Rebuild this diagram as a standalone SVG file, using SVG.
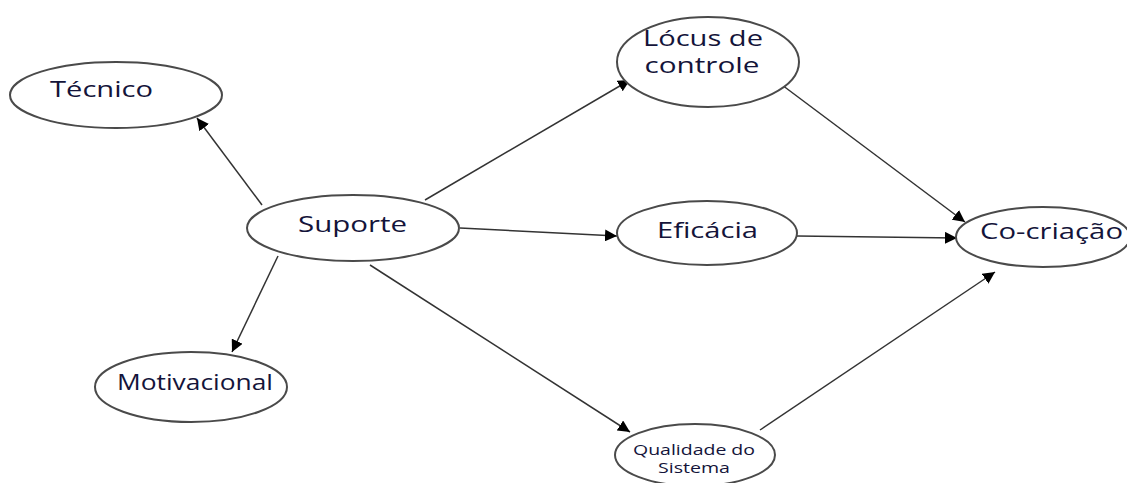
<svg xmlns="http://www.w3.org/2000/svg" width="1127" height="483" viewBox="0 0 1127 483">
<style>
.n{fill:#fff;stroke:#4a4a4a;stroke-width:2}
.t{font-family:"Open Sans","Liberation Sans",sans-serif;font-size:21px;fill:#14143a;text-anchor:middle}
.s{font-size:15px}
.c{stroke:#333;stroke-width:1.5;fill:none;marker-end:url(#a)}
</style>
<defs>
<marker id="a" viewBox="0 0 10 10" refX="10" refY="5" markerWidth="12" markerHeight="12" markerUnits="userSpaceOnUse" orient="auto">
<path d="M0,0L10,5L0,10z" fill="#000"/>
</marker>
</defs>
<rect width="1127" height="483" fill="#fff"/>
<g id="connectors">
<line class="c" x1="262" y1="205" x2="197" y2="118"/>
<line class="c" x1="278" y1="256" x2="232" y2="352"/>
<line class="c" x1="425" y1="200" x2="630" y2="80"/>
<line class="c" x1="460" y1="228" x2="617" y2="236"/>
<line class="c" x1="370" y1="265" x2="630" y2="432"/>
<line class="c" x1="782" y1="85" x2="965" y2="222"/>
<line class="c" x1="797" y1="236" x2="957" y2="238"/>
<line class="c" x1="760" y1="430" x2="995" y2="272"/>
</g>
<g id="tecnico"><ellipse class="n" cx="116" cy="95" rx="106" ry="33"/><text class="t" x="101.5" y="97" textLength="103" lengthAdjust="spacingAndGlyphs">Técnico</text></g>
<g id="locus"><ellipse class="n" cx="708" cy="62" rx="91" ry="45"/><text class="t" x="703" y="46" textLength="120" lengthAdjust="spacingAndGlyphs">Lócus de</text><text class="t" x="702" y="73" textLength="115" lengthAdjust="spacingAndGlyphs">controle</text></g>
<g id="suporte"><ellipse class="n" cx="353" cy="228" rx="106" ry="33"/><text class="t" x="352.5" y="232" textLength="109" lengthAdjust="spacingAndGlyphs">Suporte</text></g>
<g id="eficacia"><ellipse class="n" cx="707" cy="233" rx="90" ry="32"/><text class="t" x="707.5" y="238" textLength="101" lengthAdjust="spacingAndGlyphs">Eficácia</text></g>
<g id="cocriacao"><ellipse class="n" cx="1043" cy="237" rx="87" ry="30"/><text class="t" x="1051.5" y="239" textLength="143" lengthAdjust="spacingAndGlyphs">Co-criação</text></g>
<g id="motivacional"><ellipse class="n" cx="191" cy="387" rx="96" ry="35"/><text class="t" x="195" y="390" textLength="156" lengthAdjust="spacingAndGlyphs">Motivacional</text></g>
<g id="qualidade"><ellipse class="n" cx="695" cy="455" rx="80" ry="31"/><text class="t s" x="694" y="455" textLength="122" lengthAdjust="spacingAndGlyphs">Qualidade do</text><text class="t s" x="694" y="473" textLength="72" lengthAdjust="spacingAndGlyphs">Sistema</text></g>
</svg>
